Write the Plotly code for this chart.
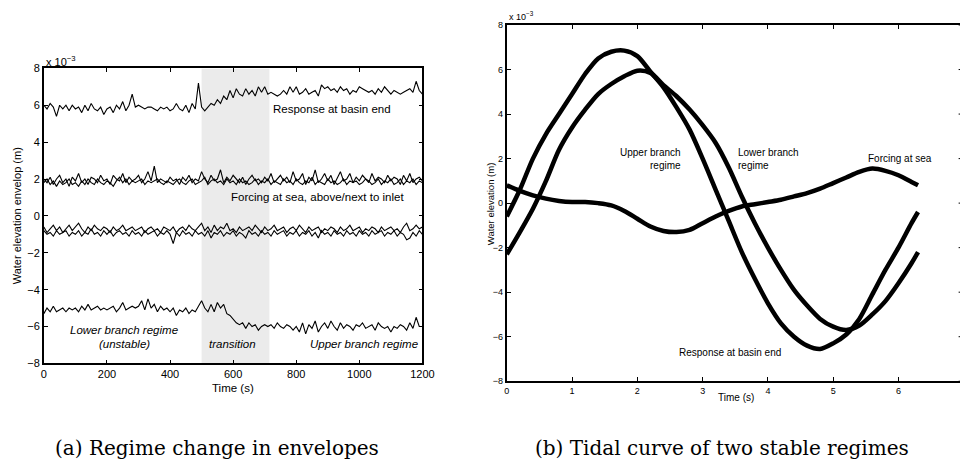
import plotly.graph_objects as go

# ---------------- data: panel (a) envelopes (units of 1e-3 m), t every 10 s ----------------
t_env = list(range(0, 1201, 10))

resp_env = [6.0, 5.8, 6.1, 5.9, 5.4, 6.0, 5.8, 6.0, 5.7, 6.0,
            5.8, 5.9, 5.6, 6.0, 5.7, 6.1, 5.8, 5.7, 5.9, 5.5,
            5.8, 5.9, 5.6, 6.0, 5.8, 6.2, 5.7, 6.0, 6.6, 5.9,
            6.0, 5.9, 5.8, 5.9, 5.9, 5.8, 5.7, 5.9, 5.8, 5.9,
            5.7, 5.8, 6.1, 5.8, 5.7, 6.0, 5.6, 6.1, 5.8, 7.2,
            5.9, 5.7, 5.9, 6.1, 6.0, 6.3, 6.1, 6.5, 6.3, 6.8,
            6.4, 6.9, 6.6, 6.5, 6.9, 6.6, 6.8, 6.5, 7.0, 6.7,
            7.0, 6.6, 6.7, 6.6, 6.5, 6.6, 6.8, 6.6, 7.0, 6.7,
            7.0, 6.6, 6.7, 6.9, 6.6, 6.7, 6.8, 6.5, 7.1, 6.9,
            7.0, 6.8, 6.9, 6.7, 7.0, 6.8, 6.9, 6.6, 6.8, 6.7,
            7.0, 6.9, 6.8, 6.7, 6.8, 6.6, 6.9, 6.7, 7.0, 6.8,
            6.6, 6.8, 6.7, 6.6, 6.7, 6.8, 6.9, 6.7, 7.3, 6.8,
            6.6]

forc_env_a = [2.0, 1.8, 2.1, 1.7, 2.0, 2.2, 1.8, 2.0, 1.6, 2.1,
              1.9, 2.3, 1.8, 2.0, 1.7, 2.1, 2.0, 1.8, 2.2, 1.9,
              2.0, 1.7, 2.2, 2.0, 1.9, 2.3, 1.8, 2.1, 1.9, 2.0,
              2.2, 1.8, 2.0, 2.4, 1.9, 2.7, 1.8, 2.0, 1.9, 1.8,
              2.1, 1.9, 2.0, 1.7, 2.1, 1.9, 2.2, 1.8, 2.0, 1.9,
              2.4, 2.0, 1.8, 2.2, 1.9, 2.0, 2.5, 1.8, 2.1, 1.9,
              2.2, 2.0, 1.8, 2.1, 1.7, 2.0, 2.2, 1.9, 2.0, 1.8,
              2.1, 1.9, 2.3, 1.8, 2.0, 2.2, 1.9, 2.1, 1.8, 2.4,
              1.9, 2.0, 2.3, 1.7, 2.1, 1.9, 2.5, 1.8, 2.0, 2.3,
              1.9, 2.2, 1.7, 2.1, 2.4, 1.9, 2.0, 2.3, 1.8, 2.1,
              1.9, 2.2, 2.0, 1.8, 2.3, 1.9, 2.1, 2.0, 1.8, 2.2,
              1.9, 2.1, 2.0, 1.7, 2.2, 1.9, 2.3, 1.8, 2.0, 2.1,
              1.9]

forc_env_b = [1.8, 2.0, 1.7, 1.9, 1.6, 1.9, 1.7, 1.8, 2.0, 1.7,
              1.8, 1.6, 1.9, 1.7, 2.0, 1.8, 1.7, 2.0, 1.8, 1.7,
              1.9, 1.8, 1.6, 1.9, 2.1, 1.8, 2.0, 1.7, 1.9, 1.8,
              1.9, 2.0, 1.7, 1.9, 1.8, 1.9, 2.0, 1.8, 1.7, 1.9,
              1.8, 1.7, 1.9, 2.0, 1.8, 1.7, 1.9, 2.0, 1.7, 1.8,
              1.9, 2.1, 1.7, 1.9, 2.0, 1.8, 1.9, 1.7, 2.0, 1.8,
              1.9, 1.7, 2.0, 1.8, 1.9, 1.7, 1.8, 2.0, 1.7, 1.9,
              1.8, 2.0, 1.7, 1.9, 1.8, 1.7, 2.0, 1.8, 1.9, 1.7,
              2.0, 1.8, 1.7, 1.9, 1.8, 2.1, 1.7, 1.9, 1.8, 1.7,
              2.0, 1.8, 1.9, 1.7, 1.8, 2.0, 1.7, 1.9, 1.8, 1.9,
              1.7, 1.8, 2.0, 1.9, 1.7, 1.8, 2.0, 1.7, 1.9, 1.8,
              2.0, 1.7, 1.8, 2.0, 1.7, 1.9, 1.8, 2.0, 1.7, 1.9,
              1.8]

inlet_env_a = [-0.6, -0.9, -0.7, -0.5, -0.8, -0.6, -0.9, -0.7, -0.5, -0.8,
               -0.6, -0.4, -0.7, -0.9, -0.6, -0.8, -0.5, -0.7, -0.8, -0.6,
               -0.7, -0.9, -0.6, -0.8, -0.7, -0.5, -0.8, -0.7, -0.6, -0.8,
               -0.7, -0.6, -0.9, -0.7, -0.6, -0.8, -0.7, -0.9, -0.6, -0.7,
               -0.8, -0.6, -0.9, -0.7, -0.6, -0.8, -0.5, -0.7, -0.8, -0.6,
               -0.4, -0.8, -0.6, -0.9, -0.5, -0.8, -0.6, -0.7, -0.4, -0.8,
               -0.7, -0.9, -0.6, -0.8, -0.7, -0.6, -0.8, -0.5, -0.7, -0.9,
               -0.6, -0.8, -0.7, -0.5, -0.8, -0.7, -0.6, -0.9, -0.7, -0.6,
               -0.8, -0.5, -0.7, -0.9, -0.6, -0.8, -0.7, -0.6, -0.9, -0.7,
               -0.8, -0.6, -0.7, -0.9, -0.6, -0.8, -0.7, -0.5, -0.8, -0.7,
               -0.6, -0.9, -0.7, -0.8, -0.6, -0.7, -0.9, -0.6, -0.8, -0.7,
               -0.6, -0.8, -0.7, -0.9, -0.6, -0.4, -0.8, -0.7, -0.5, -0.7,
               -0.6]

inlet_env_b = [-0.8, -1.0, -0.9, -1.1, -0.8, -1.0, -0.9, -0.8, -1.1, -0.9,
               -1.0, -0.8, -1.1, -0.9, -1.0, -0.7, -1.0, -0.9, -1.1, -0.8,
               -1.0, -0.8, -1.1, -0.9, -0.8, -1.0, -0.9, -1.1, -0.8, -1.0,
               -0.9, -1.1, -0.8, -1.0, -0.9, -0.8, -1.1, -0.9, -1.0, -0.8,
               -1.0, -1.5, -0.9, -1.1, -0.8, -1.0, -0.9, -1.1, -0.8, -1.0,
               -0.9, -1.1, -0.8, -1.2, -0.9, -1.0, -0.8, -1.1, -0.9, -1.0,
               -0.8, -1.1, -0.9, -1.0, -1.2, -0.8, -1.0, -0.9, -1.1, -0.8,
               -1.0, -0.9, -1.1, -0.8, -1.0, -0.9, -0.8, -1.1, -0.9, -1.0,
               -0.8, -1.1, -0.9, -1.0, -0.8, -1.1, -0.9, -1.2, -0.8, -1.0,
               -0.9, -1.1, -0.8, -1.0, -0.9, -1.1, -0.8, -1.0, -0.9, -1.1,
               -0.8, -1.0, -0.9, -1.1, -0.8, -1.0, -0.9, -0.8, -1.1, -0.9,
               -1.0, -0.8, -1.1, -0.9, -1.0, -1.3, -1.2, -0.9, -1.1, -0.8,
               -1.0]

low_env = [-5.3, -5.0, -5.2, -4.9, -5.2, -5.1, -5.0, -5.2, -5.0, -5.1,
           -5.0, -5.2, -4.9, -5.1, -4.8, -5.1, -5.0, -4.9, -5.1, -5.0,
           -5.1, -5.0, -4.9, -5.2, -5.0, -4.7, -5.1, -5.0, -4.9, -5.0,
           -4.9, -4.6, -5.1, -4.5, -5.0, -4.8, -5.2, -4.9, -5.1, -5.0,
           -5.2, -5.0, -5.4, -5.1, -5.2, -5.0, -5.3, -5.1, -5.2, -4.9,
           -4.6, -5.0, -5.2, -4.8, -5.2, -4.7, -5.0, -4.8, -5.3, -5.4,
           -5.6, -5.8, -5.9, -5.8, -6.1, -5.8, -6.0, -5.9, -6.2, -6.0,
           -5.9, -6.0, -5.9, -6.1, -5.8, -6.0, -6.1, -5.9, -6.0, -6.2,
           -6.0, -6.3, -5.8, -6.4, -5.9, -6.1, -5.7, -6.3, -6.0, -5.8,
           -6.1, -5.7, -6.0, -6.2, -5.8, -6.1, -5.9, -6.0, -6.2, -5.9,
           -6.0, -5.8, -6.1, -6.0, -5.9, -6.2, -5.8, -6.0, -6.1, -6.0,
           -6.3, -6.0, -6.1, -5.9, -6.0, -6.2, -5.8, -6.1, -5.5, -6.0,
           -6.0]

transition_start = 500
transition_end = 715

# ---------------- data: panel (b) tidal curves (units of 1e-3 m) ----------------
t_tide = [0.0, 0.2, 0.4, 0.6, 0.8, 1.0, 1.2, 1.4, 1.6, 1.8, 2.0, 2.2, 2.4, 2.6,
          2.8, 3.0, 3.2, 3.4, 3.6, 3.8, 4.0, 4.2, 4.4, 4.6, 4.8, 5.0, 5.2,
          5.4, 5.6, 5.8, 6.0, 6.2, 6.3]

upper_branch = [-0.6, 0.6, 2.0, 3.1, 4.0, 4.9, 5.8, 6.5, 6.8, 6.85, 6.6, 5.9, 5.2,
                4.3, 3.3, 2.0, 0.6, -0.8, -2.2, -3.4, -4.5, -5.4, -6.0, -6.4,
                -6.55, -6.3, -5.9, -5.2, -4.1, -3.0, -2.0, -0.9, -0.4]

lower_branch = [-2.3, -1.3, -0.25, 1.0, 2.4, 3.4, 4.2, 4.9, 5.35, 5.7, 5.95, 5.85,
                5.3, 4.8, 4.2, 3.5, 2.7, 1.6, 0.3, -0.9, -2.0, -3.0, -3.9, -4.6,
                -5.2, -5.55, -5.7, -5.5, -5.0, -4.4, -3.6, -2.7, -2.2]

forcing_sea = [0.8, 0.55, 0.35, 0.2, 0.1, 0.05, 0.05, 0.0, -0.1, -0.35, -0.7,
               -1.05, -1.25, -1.3, -1.2, -0.9, -0.6, -0.35, -0.15, -0.05, 0.05,
               0.15, 0.3, 0.45, 0.65, 0.9, 1.15, 1.4, 1.55, 1.45, 1.25, 0.95, 0.8]

y_ticks = [-8, -6, -4, -2, 0, 2, 4, 6, 8]

# ---------------- layout helpers ----------------
W, H = 972, 473
def px(x):
    return x / W
def py(y):
    return 1 - y / H

SANS = "Liberation Sans, Arial, sans-serif"
SERIF = "DejaVu Serif, Liberation Serif, serif"

fig = go.Figure()

for ser in [resp_env, forc_env_a, forc_env_b, inlet_env_a, inlet_env_b, low_env]:
    fig.add_trace(go.Scatter(x=t_env, y=ser, mode="lines",
                             line=dict(color="black", width=1.1),
                             xaxis="x", yaxis="y", showlegend=False))

for ser in [upper_branch, lower_branch, forcing_sea]:
    fig.add_trace(go.Scatter(x=t_tide, y=ser, mode="lines",
                             line=dict(color="black", width=4.5, shape="spline", smoothing=0.8),
                             xaxis="x2", yaxis="y2", showlegend=False))

ax_common = dict(showline=True, linecolor="black", mirror="ticks", ticks="inside",
                 tickcolor="black", showgrid=False, zeroline=False)

fig.update_layout(
    width=W, height=H, margin=dict(l=0, r=0, t=0, b=0),
    paper_bgcolor="white", plot_bgcolor="white",
    font=dict(family=SANS, color="black"),
    xaxis=dict(domain=[px(41.5), px(426)], range=[0, 1200], tickvals=list(range(0, 1201, 200)),
               ticklen=4, linewidth=1.5, tickwidth=1, tickfont=dict(size=11), anchor="y",
               **ax_common),
    yaxis=dict(domain=[py(366.7), py(64)], range=[-8, 8], tickvals=y_ticks,
               ticklen=4, linewidth=1.5, tickwidth=1, tickfont=dict(size=11), anchor="x",
               **ax_common),
    xaxis2=dict(domain=[px(511.7), 1.0], range=[0, (972 - 511.7) / 66.3], tickvals=[0, 1, 2, 3, 4, 5, 6],
                ticklen=4, linewidth=2, tickwidth=1, tickfont=dict(size=9), anchor="y2",
                **ax_common),
    yaxis2=dict(domain=[py(385), py(19.5)], range=[-8, 8], tickvals=y_ticks,
                ticklen=4, linewidth=2, tickwidth=1, tickfont=dict(size=9), anchor="x2",
                showline=True, linecolor="black", mirror=False, ticks="inside",
                tickcolor="black", showgrid=False, zeroline=False),
)

shapes = [dict(type="rect", xref="x", yref="y", x0=transition_start, x1=transition_end,
               y0=-8, y1=8, fillcolor="#ebebeb", line=dict(width=0), layer="below")]
for v in y_ticks:
    shapes.append(dict(type="line", xref="paper", yref="y2", x0=px(970.6), x1=1.0,
                       y0=v, y1=v, line=dict(color="black", width=1)))
fig.update_layout(shapes=shapes)

ann = []
def add(text, x, y, size, xanchor="center", italic=False, family=SANS, angle=0, align="center"):
    if italic:
        text = "<i>" + text + "</i>"
    ann.append(dict(text=text, x=px(x), y=py(y), xref="paper", yref="paper",
                    xanchor=xanchor, yanchor="middle", showarrow=False,
                    font=dict(size=size, family=family, color="black"),
                    textangle=angle, align=align))

# panel (a)
add("x 10<sup>−3</sup>", 42, 56, 11, xanchor="left")
add("Water elevation envelop (m)", 14, 215, 11, angle=-90)
add("Time (s)", 233.5, 392, 11.5)
add("Response at basin end", 272, 106, 11.5, xanchor="left")
add("Forcing at sea, above/next to inlet", 230, 196, 11.5, xanchor="left")
add("Lower branch regime", 123, 332, 11.5, italic=True)
add("(unstable)", 123, 347, 11.5, italic=True)
add("transition", 233.5, 347, 11.5, italic=True)
add("Upper branch regime", 424, 347, 11.5, xanchor="right", italic=True)

# panel (b)
add("x 10<sup>−3</sup>", 512, 10, 9, xanchor="left")
add("Water elevation (m)", 495, 203, 9.5, angle=-90)
add("Time (s)", 744, 402, 10)
add("Upper branch<br>regime", 691, 156.5, 10, xanchor="right", align="right")
add("Lower branch<br>regime", 744, 156.5, 10, xanchor="left", align="left")
add("Forcing at sea", 877, 156, 10, xanchor="left")
add("Response at basin end", 685, 356, 10, xanchor="left")

# captions
add("(a) Regime change in envelopes", 217, 454, 20, family=SERIF)
add("(b) Tidal curve of two stable regimes", 730, 454, 20, family=SERIF)

fig.update_layout(annotations=ann)

fig.write_html("out.html", config={"displayModeBar": False},
               post_script="document.body.style.margin='0';document.body.style.overflow='hidden';")
